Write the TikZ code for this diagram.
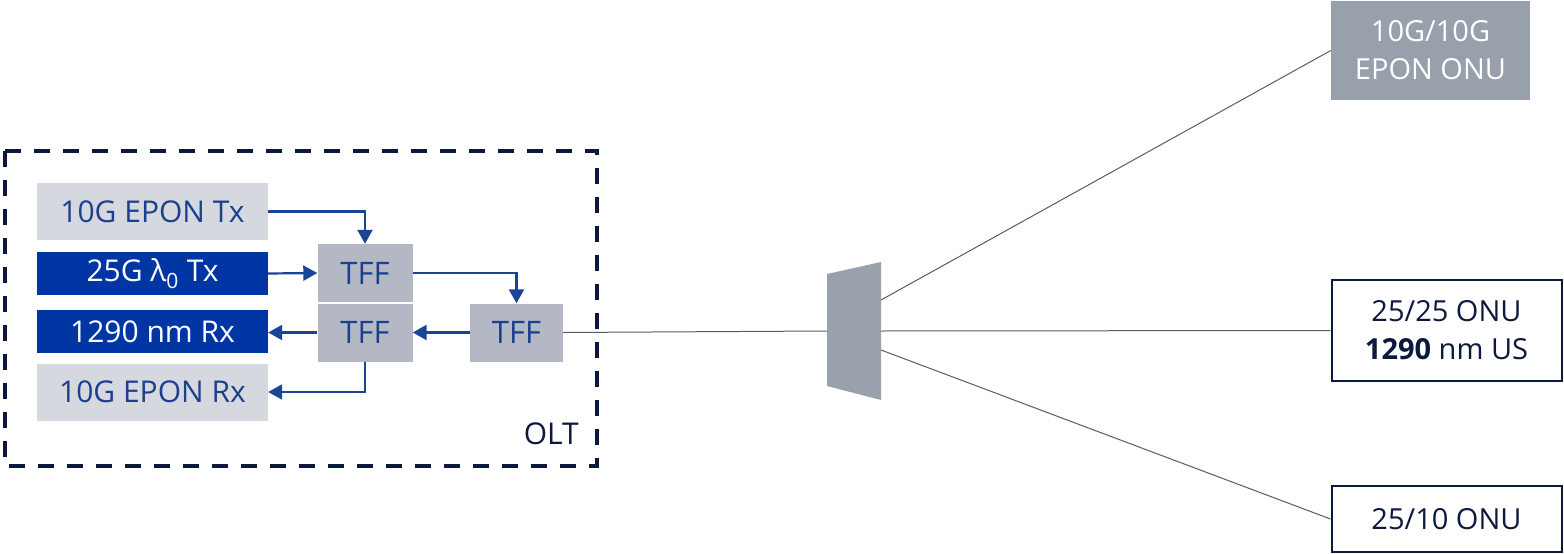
\documentclass[tikz,border=0pt]{standalone}
\usepackage{fontspec}
\setmainfont{Open Sans}
\usetikzlibrary{arrows.meta}
\definecolor{navy}{HTML}{0B1A3C}
\definecolor{txtblue}{HTML}{1C3F8E}
\definecolor{arrblue}{HTML}{1A4494}
\definecolor{lightbox}{HTML}{D5D8DE}
\definecolor{darkbox}{HTML}{0036A3}
\definecolor{tffbox}{HTML}{B3B8C4}
\definecolor{greybox}{HTML}{98A0AC}
\definecolor{splitgrey}{HTML}{9AA1AD}
\definecolor{fibre}{HTML}{555C6A}
\tikzset{
  bigfont/.style={font=\fontsize{30}{33}\selectfont},
  lbox/.style={bigfont,fill=lightbox,text=txtblue,minimum width=231pt,minimum height=57pt,inner sep=0pt},
  dbox/.style={bigfont,fill=darkbox,text=white,minimum width=231pt,minimum height=43pt,inner sep=0pt},
  tff/.style={font=\fontsize{31}{33}\selectfont,fill=tffbox,text=txtblue,minimum width=95pt,minimum height=58pt,inner sep=0pt},
  onufont/.style={font=\fontsize{29}{38}\selectfont},
  onu/.style={onufont,draw=navy,line width=2pt,fill=white,text=navy,minimum width=230pt,inner sep=0pt,align=center},
  arr/.style={draw=arrblue,line width=2.2pt,-{Triangle[length=14pt,width=15pt]}},
  fib/.style={draw=fibre,line width=1pt}
}
\begin{document}
\begin{tikzpicture}[x=1pt,y=-1pt]
\useasboundingbox (0,0) rectangle (1564,554);
% OLT dashed box
\draw[navy,line width=3.4pt,dash pattern=on 16pt off 13pt] (5,151) rectangle (597,466);
\node[bigfont,text=navy,anchor=south east,inner sep=0pt] (olt) at (579,445) {OLT};
% blocks
\node[lbox] (etx) at (152.5,211.5) {10G EPON Tx};
\node[dbox] (ltx) at (152.5,273.5) {25G λ\textsubscript{0} Tx};
\node[dbox] (rx1290) at (152.5,331.5) {1290 nm Rx};
\node[lbox] (erx) at (152.5,392) {10G EPON Rx};
\node[tff] (tffa) at (365,273) {TFF};
\node[tff] (tffb) at (365,332.5) {TFF};
\node[tff,minimum width=93pt] (tffc) at (516.5,332.5) {TFF};
% arrows
\draw[arr] (etx.east) -| (tffa.north);
\draw[arr] (ltx.east) -- (tffa.west);
\draw[arr] (tffa.east) -| (tffc.north);
\draw[arr] (tffc.west) -- (tffb.east);
\draw[arr] (tffb.west) -- (tffb.west -| rx1290.east);
\draw[arr] (tffb.south) |- (erx.east);
% splitter
\fill[splitgrey] (827,274) -- (881,262) -- (881,400) -- (827,386) -- cycle;
\coordinate (spin) at (827,331);
\coordinate (spa) at (881,300);
\coordinate (spb) at (881,331);
\coordinate (spc) at (881,350);
% ONUs
\node[onufont,fill=greybox,text=white,minimum width=199pt,minimum height=99pt,inner sep=0pt,align=center] (onu1) at (1430.5,50.5) {10G/10G\\EPON ONU};
\node[onu,minimum height=101pt] (onu2) at (1446.5,330.5) {25/25 ONU\\\textbf{1290} nm US};
\node[onu,minimum height=66pt] (onu3) at (1446.5,519) {25/10 ONU};
% fibres
\draw[fib] (tffc.east) -- (spin);
\draw[fib] (spa) -- (onu1.west);
\draw[fib] (spb) -- (onu2.west);
\draw[fib] (spc) -- (onu3.west);
\end{tikzpicture}
\end{document}
